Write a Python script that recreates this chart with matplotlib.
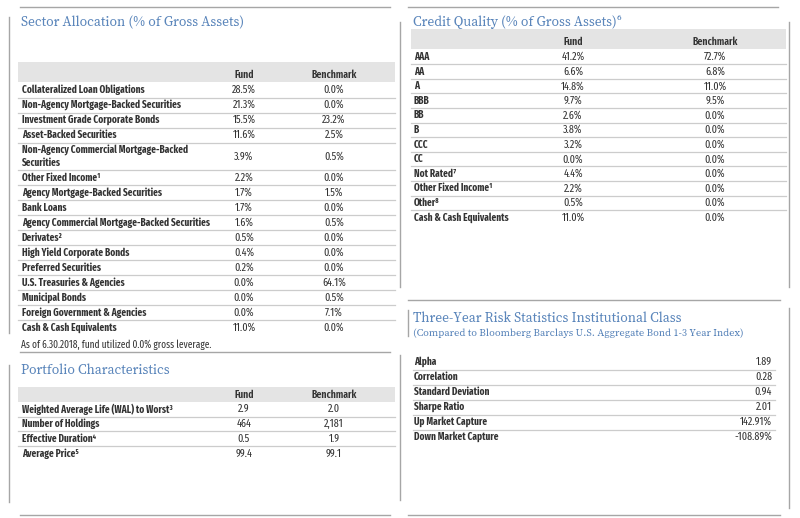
import matplotlib
matplotlib.use("Agg")
import matplotlib.pyplot as plt

# ---- data ----
sector_names = ["Collateralized Loan Obligations", "Non-Agency Mortgage-Backed Securities",
                "Investment Grade Corporate Bonds", "Asset-Backed Securities",
                "Non-Agency Commercial Mortgage-Backed\nSecurities", "Other Fixed Income\u00b9",
                "Agency Mortgage-Backed Securities", "Bank Loans",
                "Agency Commercial Mortgage-Backed Securities", "Derivates\u00b2",
                "High Yield Corporate Bonds", "Preferred Securities", "U.S. Treasuries & Agencies",
                "Municipal Bonds", "Foreign Government & Agencies", "Cash & Cash Equivalents"]
sector_fund = ["28.5%", "21.3%", "15.5%", "11.6%", "3.9%", "2.2%", "1.7%", "1.7%", "1.6%",
               "0.5%", "0.4%", "0.2%", "0.0%", "0.0%", "0.0%", "11.0%"]
sector_bench = ["0.0%", "0.0%", "23.2%", "2.5%", "0.5%", "0.0%", "1.5%", "0.0%", "0.5%",
                "0.0%", "0.0%", "0.0%", "64.1%", "0.5%", "7.1%", "0.0%"]

pc_names = ["Weighted Average Life (WAL) to Worst\u00b3", "Number of Holdings",
            "Effective Duration\u2074", "Average Price\u2075"]
pc_fund = ["2.9", "464", "0.5", "99.4"]
pc_bench = ["2.0", "2,181", "1.9", "99.1"]

cq_names = ["AAA", "AA", "A", "BBB", "BB", "B", "CCC", "CC", "Not Rated\u2077",
            "Other Fixed Income\u00b9", "Other\u2078", "Cash & Cash Equivalents"]
cq_fund = ["41.2%", "6.6%", "14.8%", "9.7%", "2.6%", "3.8%", "3.2%", "0.0%", "4.4%",
           "2.2%", "0.5%", "11.0%"]
cq_bench = ["72.7%", "6.8%", "11.0%", "9.5%", "0.0%", "0.0%", "0.0%", "0.0%", "0.0%",
            "0.0%", "0.0%", "0.0%"]

risk_names = ["Alpha", "Correlation", "Standard Deviation", "Sharpe Ratio",
              "Up Market Capture", "Down Market Capture"]
risk_vals = ["1.89", "0.28", "0.94", "2.01", "142.91%", "-108.89%"]

# ---- style ----
BLUE = "#5b86bb"
TXT = "#333333"
SEP = "#cccccc"
BAND = "#e4e4e4"
BORDER = "#a6a6a6"
SANS = ["Fira Sans Extra Condensed", "DejaVu Sans"]
SERIF = ["Source Serif 4", "Liberation Serif", "DejaVu Serif"]
FS = 7.3     # row labels
FV = 7.9     # values

fig = plt.figure(figsize=(8, 5.18), dpi=100)
ax = fig.add_axes([0, 0, 1, 1])
ax.set_xlim(0, 800)
ax.set_ylim(518, 0)
ax.axis("off")


def title(x, y, s, size=9.85):
    ax.text(x, y, s, color=BLUE, fontsize=size, family=SERIF, weight="semibold",
            va="center", ha="left")


def header(band, x0, x1, cols, labels):
    ax.axhspan(band[0], band[1], xmin=x0 / 800, xmax=x1 / 800, color=BAND, lw=0)
    yc = band[1] - 7.5
    for cx, lab in zip(cols, labels):
        ax.text(cx, yc, lab, fontsize=7.6, family=SANS, weight="semibold", color=TXT,
                ha="center", va="center")


def table(names, cols_vals, y_top, step, x0, x1, cols, ha="center", lx=None):
    y = y_top
    lx = x0 + 4 if lx is None else lx
    for i, name in enumerate(names):
        h = step * (1.85 if "\n" in name else 1.0)
        yc = y + h / 2
        ax.text(lx, yc, name, fontsize=FS, family=SANS, weight="bold", color=TXT,
                ha="left", va="center", linespacing=1.3)
        for cx, vals in zip(cols, cols_vals):
            ax.text(cx, yc, vals[i], fontsize=FV, family=SANS, color=TXT,
                    ha=ha, va="center")
        y += h
        if i < len(names) - 1:
            ax.plot([x0, x1], [y, y], color=SEP, lw=0.9)
    return y


# frame lines
for (xa, xb, yy) in [(20, 390, 7), (20, 390, 352), (20, 390, 515),
                     (408, 778, 7), (408, 780, 300), (408, 780, 515)]:
    ax.plot([xa, xb], [yy, yy], color=BORDER, lw=1.0)
for (xx, ya, yb) in [(9, 17, 333), (9, 365, 502), (400, 22, 287), (400, 355, 500),
                     (408, 310, 336), (789, 22, 287), (789, 308, 508)]:
    ax.plot([xx, xx], [ya, yb], color=BORDER, lw=1.0)

# Sector allocation
title(21, 22, "Sector Allocation (% of Gross Assets)")
header((62, 82), 18, 395, [244, 334], ["Fund", "Benchmark"])
table(sector_names, [sector_fund, sector_bench], 82.5, 15.0, 18, 395, [244, 334], lx=22)
ax.text(21, 345, "As of 6.30.2018, fund utilized 0.0% gross leverage.", fontsize=7.3,
        family=SANS, color=TXT, ha="left", va="center")

# Portfolio characteristics
title(21, 370, "Portfolio Characteristics")
header((387, 402), 18, 395, [244, 334], ["Fund", "Benchmark"])
table(pc_names, [pc_fund, pc_bench], 402, 14.7, 18, 395, [244, 334], lx=22)

# Credit quality
title(413, 22, "Credit Quality (% of Gross Assets)\u2076")
header((29, 49), 411, 786, [573, 715], ["Fund", "Benchmark"])
table(cq_names, [cq_fund, cq_bench], 49.7, 14.6, 411, 786, [573, 715], lx=414)

# Risk statistics
title(413, 318, "Three-Year Risk Statistics Institutional Class")
ax.text(413, 333, "(Compared to Bloomberg Barclays U.S. Aggregate Bond 1-3 Year Index)",
        color=BLUE, fontsize=7.5, family=SERIF, weight="semibold", va="center", ha="left")
table(risk_names, [risk_vals], 354.5, 15.0, 413, 775, [772], ha="right", lx=414)

fig.savefig("out.png", dpi=100)
